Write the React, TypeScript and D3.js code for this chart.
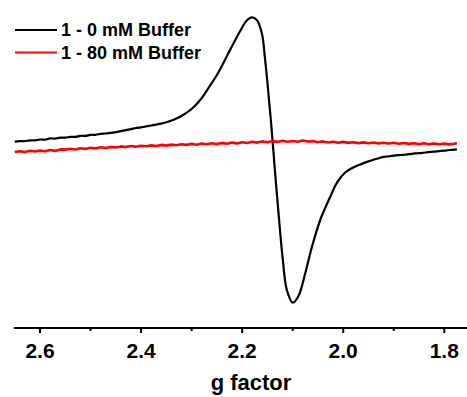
import React from "react";
import * as d3 from "d3";

const seriesNames = ["1 - 0 mM Buffer", "1 - 80 mM Buffer"];
const seriesColors = ["#000000", "#ff0000"];

// black: [g, intensity]
const buffer0: [number, number][] = [
  [2.650, 0.3], [2.640, 0.9], [2.630, 0.8], [2.620, 1.7], [2.610, 1.6], [2.600, 2.5],
  [2.590, 2.4], [2.580, 3.6], [2.570, 3.4], [2.560, 4.4], [2.550, 4.3], [2.540, 5.2],
  [2.530, 5.1], [2.520, 6.2], [2.510, 6.1], [2.500, 7.2], [2.490, 7.2], [2.480, 8.2],
  [2.470, 8.5], [2.460, 9.2], [2.450, 9.8], [2.440, 10.8], [2.430, 11.9], [2.420, 12.9],
  [2.410, 14.0], [2.400, 14.7], [2.390, 15.6], [2.380, 16.5], [2.370, 17.4], [2.360, 18.4],
  [2.350, 19.8], [2.340, 21.4], [2.330, 23.4], [2.316, 27.3], [2.300, 33], [2.283, 42],
  [2.267, 53.7], [2.250, 67], [2.234, 82], [2.217, 98.7], [2.204, 111], [2.191, 121.5],
  [2.181, 124.7], [2.171, 122], [2.161, 108.7], [2.1545, 82], [2.148, 48.7], [2.141, 8.7],
  [2.1347, -31.3], [2.128, -71.3], [2.1195, -118], [2.1116, -148], [2.0997, -160.7],
  [2.0885, -154], [2.0752, -131.3], [2.062, -105], [2.0455, -78], [2.0257, -54.7],
  [2.015, -43], [2.0059, -36], [1.996, -30.5], [1.986, -27], [1.975, -24.2], [1.965, -22.2],
  [1.953, -19.9], [1.940, -17.7], [1.930, -16.3], [1.920, -14.9], [1.910, -14.3], [1.900, -13.6],
  [1.887, -13], [1.875, -12.5], [1.865, -11.8], [1.854, -11.3], [1.843, -10.8], [1.832, -10.1],
  [1.821, -9.7], [1.810, -9.1], [1.800, -8.6], [1.790, -8.0], [1.775, -7.3],
];

// red: [g, intensity]
const buffer80: [number, number][] = [
  [2.65, -10.0], [2.64, -9.2], [2.63, -10.1], [2.62, -8.8], [2.61, -9.5], [2.60, -8.6],
  [2.59, -9.3], [2.58, -8.0], [2.57, -8.9], [2.56, -7.4], [2.55, -7.6], [2.54, -6.8],
  [2.53, -7.5], [2.52, -6.2], [2.51, -6.9], [2.50, -5.7], [2.49, -6.4], [2.48, -5.3],
  [2.47, -6.0], [2.46, -4.9], [2.45, -5.5], [2.44, -4.4], [2.43, -5.1], [2.42, -4.0],
  [2.41, -4.8], [2.40, -3.7], [2.39, -4.3], [2.38, -3.4], [2.37, -4.0], [2.36, -2.9],
  [2.35, -3.6], [2.34, -2.6], [2.33, -3.3], [2.32, -2.2], [2.31, -2.9], [2.30, -1.9],
  [2.29, -2.7], [2.28, -1.6], [2.27, -2.3], [2.26, -1.2], [2.25, -2.0], [2.24, -0.9],
  [2.23, -1.7], [2.22, -0.6], [2.21, -1.4], [2.20, -0.3], [2.19, -1.0], [2.18, 0.2],
  [2.17, -0.6], [2.16, 0.6], [2.15, -0.2], [2.14, 0.9], [2.13, 0.1], [2.12, 1.2],
  [2.11, 0.3], [2.10, 1.0], [2.09, 0.2], [2.08, 1.6], [2.07, 0.4], [2.06, 0.9],
  [2.05, -0.2], [2.04, 0.6], [2.03, -0.5], [2.02, 0.3], [2.01, -0.7], [2.00, 0.1],
  [1.99, -0.9], [1.98, -0.2], [1.97, -1.1], [1.96, -0.4], [1.95, -1.3], [1.94, -0.5],
  [1.93, -1.4], [1.92, -0.7], [1.91, -1.5], [1.90, -0.8], [1.89, -1.7], [1.88, -1.0],
  [1.87, -1.9], [1.86, -1.2], [1.85, -2.1], [1.84, -1.3], [1.83, -2.2], [1.82, -1.5],
  [1.81, -2.3], [1.80, -1.6], [1.79, -2.4], [1.78, -1.8], [1.775, -1.0],
];

const majorTicks = [2.6, 2.4, 2.2, 2.0, 1.8];
const minorTicks = [2.5, 2.3, 2.1, 1.9];
const tickLabels = ["2.6", "2.4", "2.2", "2.0", "1.8"];
const axisTitle = "g factor";
const axisDomain = [2.652, 1.754];

const W = 467;
const H = 397;
const FONT = "'Liberation Sans', Arial, Helvetica, sans-serif";

export default function App() {
  const x = d3.scaleLinear().domain([2.6, 1.8]).range([40, 444.3]);
  const y = d3.scaleLinear().domain([-160, 125]).range([302, 17]);
  const axisY = 328;

  const line = d3
    .line<[number, number]>()
    .x((d) => x(d[0]))
    .y((d) => y(d[1]))
    .curve(d3.curveCatmullRom.alpha(0.5));
  const lineRaw = d3
    .line<[number, number]>()
    .x((d) => x(d[0]))
    .y((d) => y(d[1]));

  return (
    <svg
      width={W}
      height={H}
      style={{ position: "absolute", left: 0, top: 0, background: "#fff" }}
    >
      <rect x={0} y={0} width={W} height={H} fill="#fff" />
      {/* series */}
      <path d={line(buffer0) || ""} fill="none" stroke={seriesColors[0]} strokeWidth={2.2} strokeLinejoin="round" />
      <path d={lineRaw(buffer80) || ""} fill="none" stroke={seriesColors[1]} strokeWidth={2.6} strokeLinejoin="round" />

      {/* x axis */}
      <line x1={x(axisDomain[0])} x2={x(axisDomain[1])} y1={axisY} y2={axisY} stroke="#000" strokeWidth={2} />
      {majorTicks.map((t, i) => (
        <g key={"M" + t}>
          <line x1={x(t)} x2={x(t)} y1={axisY} y2={axisY + 5} stroke="#000" strokeWidth={2} />
          <text
            x={x(t)}
            y={358}
            textAnchor="middle"
            fontFamily={FONT}
            fontWeight="bold"
            fontSize={21}
            fill="#000"
          >
            {tickLabels[i]}
          </text>
        </g>
      ))}
      {minorTicks.map((t) => (
        <line key={"m" + t} x1={x(t)} x2={x(t)} y1={axisY} y2={axisY + 3} stroke="#000" strokeWidth={2} />
      ))}
      <text x={251} y={390} textAnchor="middle" fontFamily={FONT} fontWeight="bold" fontSize={22} fill="#000">
        {axisTitle}
      </text>

      {/* legend */}
      {seriesNames.map((n, i) => (
        <g key={n}>
          <line x1={15} x2={57} y1={30 + i * 22.5} y2={30 + i * 22.5} stroke={seriesColors[i]} strokeWidth={2.2} />
          <text x={61} y={36 + i * 22.5} fontFamily={FONT} fontWeight="bold" fontSize={18} fill="#000">
            {n}
          </text>
        </g>
      ))}
    </svg>
  );
}
